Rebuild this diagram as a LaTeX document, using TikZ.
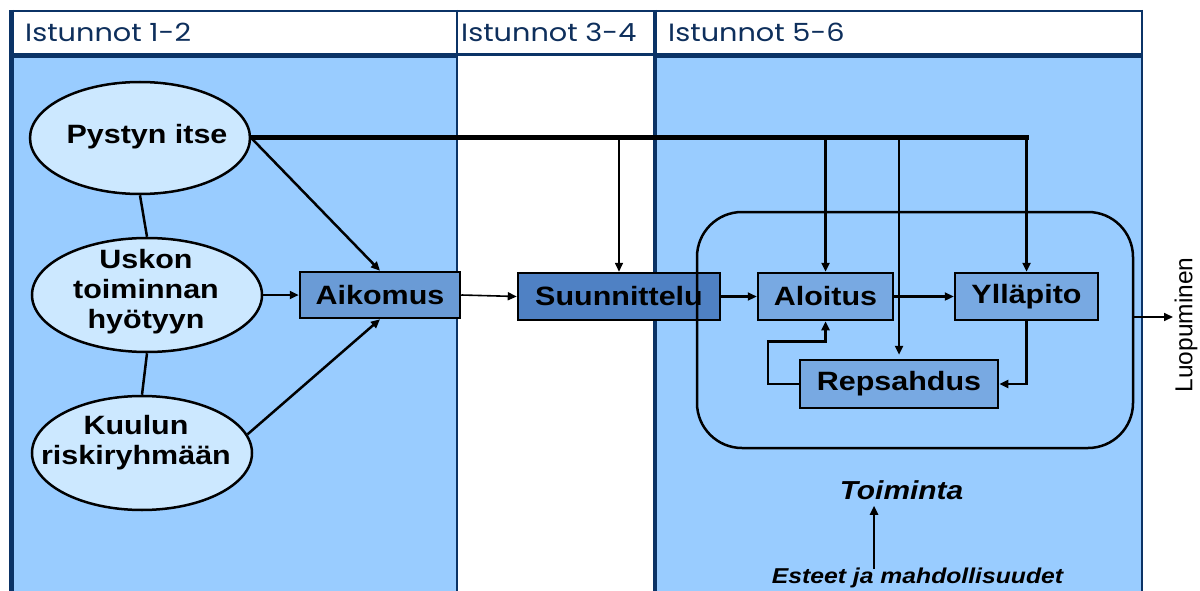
\documentclass[tikz,border=0pt]{standalone}
\usepackage{fontspec}
\setmainfont{Liberation Sans}
\newfontfamily\bodyf[FakeStretch=1.15]{Liberation Sans}
\newfontfamily\headf[FakeStretch=1.15]{Poppins}
\newfontfamily\plainf{Liberation Sans}
\usetikzlibrary{shapes.geometric,arrows.meta}
\definecolor{panel}{HTML}{99CCFF}
\definecolor{ellfill}{HTML}{CCE8FF}
\definecolor{aikfill}{HTML}{6A9BD6}
\definecolor{suunfill}{HTML}{4F81C4}
\definecolor{boxfill}{HTML}{78A9E2}
\definecolor{navy}{HTML}{0B3366}
\definecolor{headtxt}{HTML}{0E2F5C}
\tikzset{
  ell/.style={ellipse, draw=black, line width=2.5pt, fill=ellfill, inner sep=0pt},
  elltext/.style={inner sep=0pt, align=center, font={\bodyf\bfseries\fontsize{26.5}{30}\selectfont}},
  stagebox/.style={rectangle, draw=black, line width=2.5pt, fill=boxfill, inner sep=0pt,
    font={\bodyf\bfseries\fontsize{26.5}{30}\selectfont}},
  conn/.style={line width=2.5pt},
  arr/.style={line width=2.5pt, -{Triangle[length=9pt,width=8pt]}},
  thinarr/.style={line width=1.6pt, -{Triangle[length=9pt,width=8pt]}},
  headtext/.style={anchor=base west, inner sep=0pt, text=headtxt, font={\headf\fontsize{25}{27}\selectfont}},
}
\begin{document}
\begin{tikzpicture}[x=1pt,y=-1pt]
\useasboundingbox (0,0) rectangle (1200,591);
% panels
\fill[panel] (11,56) rectangle (457,595);
\fill[white] (457,56) rectangle (655,595);
\fill[panel] (655,56) rectangle (1142,595);
\draw[navy, line width=1.5pt] (457,10) -- (457,595);
\draw[navy, line width=1.5pt] (1142,10) -- (1142,595);
% headers
\draw[navy, line width=1.5pt, fill=white] (11,11) rectangle (457,54);
\draw[navy, line width=1.5pt, fill=white] (457,11) rectangle (655,54);
\draw[navy, line width=1.5pt, fill=white] (655,11) rectangle (1142,54);
\draw[navy, line width=4.5pt] (10,56) -- (457,56);
\draw[navy, line width=1.5pt] (457,55) -- (655,55);
\draw[navy, line width=4.5pt] (655,56) -- (1143,56);
\draw[navy, line width=4.5pt] (11.5,10) -- (11.5,595);
\draw[navy, line width=4.5pt] (655,10) -- (655,595);
\node[headtext] (h1) at (25,42) {Istunnot 1-2};
\node[headtext] (h2) at (461,42) {Istunnot 3-4};
\node[headtext] (h3) at (668,42) {Istunnot 5-6};
% ellipses
\node[ell, minimum width=220pt, minimum height=112pt] (pys) at (140,138) {};
\node[elltext] (pyst) at (147,137) {Pystyn itse};
\node[ell, minimum width=230pt, minimum height=114pt] (usk) at (147,295) {};
\node[elltext] (uskt) at (146,292) {Uskon\\toiminnan\\hyötyyn};
\node[ell, minimum width=220pt, minimum height=114pt] (kuu) at (142,453) {};
\node[elltext] (kuut) at (136,443) {Kuulun\\riskiryhmään};
% boxes
\node[stagebox, fill=aikfill, minimum width=160pt, minimum height=46pt] (aik) at (380,295) {Aikomus};
\node[stagebox, fill=suunfill, minimum width=202pt, minimum height=47pt] (suun) at (619,296.5) {Suunnittelu};
\node[draw=black, line width=2.5pt, rounded corners=45pt, minimum width=436pt, minimum height=236pt, inner sep=0pt] (rr) at (915,330) {};
\node[stagebox, minimum width=135pt, minimum height=47pt] (alo) at (825.5,296.5) {Aloitus};
\node[stagebox, minimum width=143pt, minimum height=47pt] (yll) at (1026.5,296.5) {Ylläpito};
\node[stagebox, minimum width=198pt, minimum height=48pt] (rep) at (899,384) {Repsahdus};
% left connectors
\draw[conn] (pys.south) -- (usk.north);
\draw[conn] (usk.south) -- (kuu.north);
\draw[arr] (pys.east) -- (aik.north);
\draw[arr] (usk.east) -- (aik.west);
\draw[arr] (kuu.10) -- (aik.south);
\draw[thinarr] (aik.east) -- (suun.west);
% top bus
\draw[line width=5pt] (pys.east) -- ([xshift=2.5pt]yll.north |- pys.east);
\draw[thinarr] (suun.north |- pys.east) -- (suun.north);
\draw[arr] (alo.north |- pys.east) -- (alo.north);
\draw[arr] (rep.north |- pys.east) -- ([yshift=4pt]rep.north);
\draw[arr] (yll.north |- pys.east) -- (yll.north);
% flow
\draw[arr] (suun.east) -- (alo.west);
\draw[arr] (alo.east) -- (yll.west);
\draw[arr] (yll.south) |- (rep.east);
\draw[arr] (rep.west) -- ++(-31,0) |- ([yshift=-20pt]alo.south) -- (alo.south);
% Luopuminen
\coordinate (luoend) at (1173,317);
\draw[thinarr] ([yshift=13pt]rr.east) -- (luoend);
\node[rotate=90, inner sep=0pt, font={\plainf\fontsize{24.5}{26}\selectfont}] (luo) at (1186,325) {Luopuminen};
% Toiminta
\node[inner sep=0pt, font={\bodyf\bfseries\itshape\fontsize{26}{28}\selectfont}] (tm) at (901.5,490) {Toiminta};
\node[inner sep=0pt, font={\bodyf\bfseries\itshape\fontsize{21.5}{24}\selectfont}] (est) at (917.5,578) {Esteet ja mahdollisuudet};
\draw[arr] ([xshift=-43.5pt,yshift=-1pt]est.north) -- ([xshift=-27.5pt,yshift=-6pt]tm.south);
\end{tikzpicture}
\end{document}
